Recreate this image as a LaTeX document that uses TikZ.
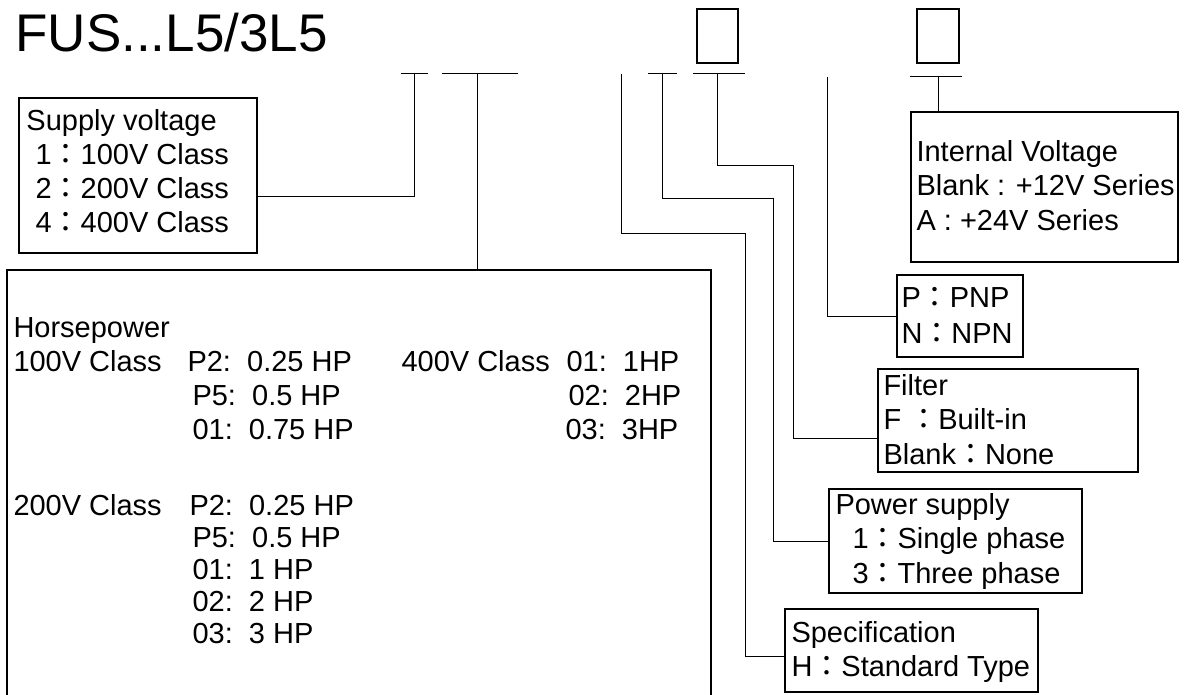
\documentclass[tikz,border=0pt]{standalone}
\usepackage{fontspec}
\setmainfont{Liberation Sans}
\newfontfamily\cjk{Noto Sans CJK TC}
\newcommand{\fcol}{{\cjk ：}}

\begin{document}
\begin{tikzpicture}[x=1pt, y=-1pt, line width=1pt]

        \def\fsz{29}            % size of the box texts
        \def\lsep{34}           % distance between two text lines
        \tikzstyle{infobox}=[draw=black, line width=1.3pt, rectangle, inner sep=0pt, outer sep=0pt, anchor=north west]
        \tikzstyle{txt}=[anchor=base west, inner sep=0pt, font={\fontsize{\fsz}{\lsep}\selectfont}]

        \useasboundingbox (0,0) rectangle (1186,695);

        % Draw the model name and the blank code boxes
        \node[anchor=base west, inner sep=0pt, font={\fontsize{53}{60}\selectfont}] (title) at (15,52) {FUS...L5/3L5};
        \node[infobox, minimum width=41pt, minimum height=54pt] (code-1) at (697,9) {};
        \node[infobox, minimum width=42pt, minimum height=54pt] (code-2) at (917,9) {};

        % Code positions
        \coordinate (t1) at (414,74);
        \coordinate (t2) at (477,74);
        \coordinate (t3) at (621,74);
        \coordinate (t4) at (662,74);
        \coordinate (t5) at (717,74);
        \coordinate (t6) at (827,77);
        \coordinate (t7) at (938,77);
        \foreach \n/\l/\r in {t1/13/14, t2/35/41, t4/14/15, t5/24/28, t7/28/24}
                \draw ([xshift=-\l pt]\n) -- ([xshift=\r pt]\n);

        % Draw the boxes
        \node[infobox, minimum width=238pt, minimum height=155pt] (volt) at (19,98) {};
        \node[infobox, minimum width=704pt, minimum height=432pt] (hp) at (7,270) {};
        \node[infobox, minimum width=267pt, minimum height=150pt] (intv) at (911,112) {};
        \node[infobox, minimum width=126pt, minimum height=82pt] (pnp) at (897,275) {};
        \node[infobox, minimum width=260pt, minimum height=103pt] (filt) at (878,369) {};
        \node[infobox, minimum width=253pt, minimum height=104pt] (pwr) at (829,489) {};
        \node[infobox, minimum width=253pt, minimum height=83pt] (spec) at (785,609) {};

        % Texts of the small boxes
        \node[txt] (volt-0) at (26,131) {Supply voltage};
        \foreach \v [count=\i] in {1,2,4}
                \node[txt] (volt-\i) at (35,131+\i*\lsep) {\v\fcol\v00V Class};

        \node[txt] (intv-1) at (916,162) {Internal Voltage};
        \node[txt] (intv-2) at (916,196) {Blank : +12V Series};
        \node[txt] (intv-3) at (916,230) {A : +24V Series};

        \node[txt] (pnp-1) at (901,307) {P\fcol PNP};
        \node[txt] (pnp-2) at (901,343) {N\fcol NPN};

        \node[txt] (filt-1) at (883,395) {Filter};
        \node[txt] (filt-2) at (883,429) {F \fcol Built-in};
        \node[txt] (filt-3) at (883,464) {Blank\fcol None};

        \node[txt] (pwr-1) at (835,514) {Power supply};
        \node[txt] (pwr-2) at (852,548) {1\fcol Single phase};
        \node[txt] (pwr-3) at (852,583) {3\fcol Three phase};

        \node[txt] (spec-1) at (791,642) {Specification};
        \node[txt] (spec-2) at (791,676) {H\fcol Standard Type};

        % Texts of the horsepower box
        \foreach \x/\y/\t [count=\i] in {13/337/Horsepower, 13/371/100V Class, 187/371/P2:\ \ 0.25 HP,
                192/405/P5:\ \ 0.5 HP, 192/439/01:\ \ 0.75 HP, 401/371/400V Class, 566/371/01:\ \ 1HP,
                568/405/02:\ \ 2HP, 565/439/03:\ \ 3HP, 13/515/200V Class, 189/515/P2:\ \ 0.25 HP,
                192/547/P5:\ \ 0.5 HP, 192/579/01:\ \ 1 HP, 192/611/02:\ \ 2 HP, 192/643/03:\ \ 3 HP}
                \node[txt] (hp-\i) at (\x,\y) {\t};

        % Connect the code positions with the boxes
        \draw ([yshift=-21.5pt]volt.east) -| (t1);
        \draw (t2) -- (t2 |- hp.north);
        \draw (t3) |- (745,234) |- ([yshift=-5.5pt]spec.west);
        \draw (t4) |- (773,199) |- (pwr.west);
        \draw (t5) |- (793,166) |- ([yshift=-17.5pt]filt.west);
        \draw (t6) |- (pnp.west);
        \draw (t7) -- (t7 |- intv.north);

\end{tikzpicture}
\end{document}
